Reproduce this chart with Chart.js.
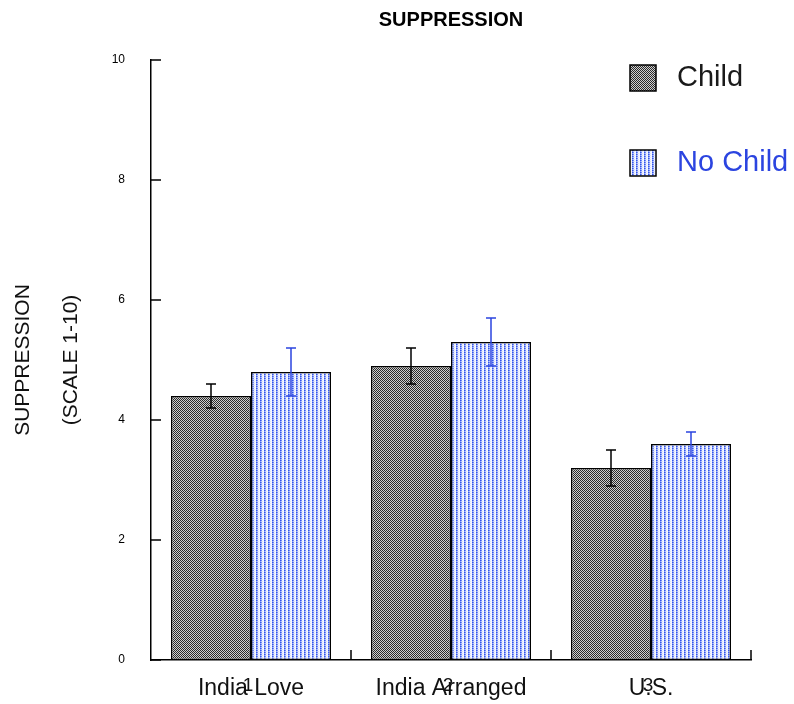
<!DOCTYPE html>
<html lang="en">
<head>
    <meta charset="UTF-8">
    <title>Suppression</title>
    <script src="https://cdn.jsdelivr.net/npm/chart.js"></script>
    <style>
        body {
            margin: 0;
            background: #fff;
        }
        #chart {
            display: block;
        }
    </style>
</head>
<body>
    <canvas id="chart" width="794" height="704"></canvas>

    <script>
        // data
        const groups = ['India Love', 'India Arranged', 'U.S.'];
        const groupNumbers = ['1', '2', '3'];
        const childMeans = [4.4, 4.9, 3.2];
        const childErrors = [0.2, 0.3, 0.3];
        const noChildMeans = [4.8, 5.3, 3.6];
        const noChildErrors = [0.4, 0.4, 0.2];
        const yTicks = [0, 2, 4, 6, 8, 10];

        const BLUE = '#2b44e0';
        const FONT = "'Liberation Sans', Arial, Helvetica, sans-serif";

        // fill patterns
        function makePattern(w, h, bg, dots) {
            const c = document.createElement('canvas');
            c.width = w;
            c.height = h;
            const g = c.getContext('2d');
            g.fillStyle = bg;
            g.fillRect(0, 0, w, h);
            dots.forEach(d => {
                g.fillStyle = d[2];
                g.fillRect(d[0], d[1], 1, 1);
            });
            return g.createPattern(c, 'repeat');
        }

        const ctx = document.getElementById('chart').getContext('2d');
        const childFill = makePattern(2, 2, '#cfcfcf', [[0, 0, '#2a2a2a'], [1, 1, '#2a2a2a']]);
        const noChildFill = makePattern(4, 4, '#f4f6fe', [
            [0, 0, '#3355ee'], [0, 1, '#8ea2f5'], [0, 2, '#3355ee'], [0, 3, '#8ea2f5'],
            [1, 0, '#7088f2'], [1, 1, '#c0cbfa'], [1, 2, '#7088f2'], [1, 3, '#c0cbfa'],
            [2, 1, '#dde3fc'], [2, 3, '#dde3fc']
        ]);

        // error bars, inward ticks, legend, group numbers
        const extras = {
            id: 'extras',
            afterDatasetsDraw(chart) {
                const g = chart.ctx;
                const y = chart.scales.y;
                const errs = [childErrors, noChildErrors];
                const cols = ['#000', BLUE];
                chart.data.datasets.forEach((ds, di) => {
                    const meta = chart.getDatasetMeta(di);
                    meta.data.forEach((bar, i) => {
                        const hi = y.getPixelForValue(ds.data[i] + errs[di][i]);
                        const lo = y.getPixelForValue(ds.data[i] - errs[di][i]);
                        g.save();
                        g.strokeStyle = cols[di];
                        g.lineWidth = 1.5;
                        g.beginPath();
                        g.moveTo(bar.x, hi);
                        g.lineTo(bar.x, lo);
                        g.moveTo(bar.x - 5, hi);
                        g.lineTo(bar.x + 5, hi);
                        g.moveTo(bar.x - 5, lo);
                        g.lineTo(bar.x + 5, lo);
                        g.stroke();
                        g.restore();
                    });
                });
            },
            afterDraw(chart) {
                const g = chart.ctx;
                const x = chart.scales.x;
                const y = chart.scales.y;
                const area = chart.chartArea;
                g.save();
                g.strokeStyle = '#000';
                g.lineWidth = 1.5;
                g.beginPath();
                yTicks.forEach(v => {
                    const py = y.getPixelForValue(v);
                    g.moveTo(area.left, py);
                    g.lineTo(area.left + 10, py);
                });
                for (let i = 1; i <= groups.length; i++) {
                    const px = x.getPixelForValue(i - 0.5);
                    g.moveTo(px, area.bottom);
                    g.lineTo(px, area.bottom - 10);
                }
                g.stroke();

                // stray group numbers under the labels
                g.fillStyle = '#111';
                g.font = '19px ' + FONT;
                g.textAlign = 'center';
                g.textBaseline = 'middle';
                groupNumbers.forEach((n, i) => {
                    g.fillText(n, x.getPixelForValue(i) - 3, 686);
                });

                // legend
                const items = [
                    { label: chart.data.datasets[0].label, fill: childFill, color: '#1a1a1a', top: 65 },
                    { label: chart.data.datasets[1].label, fill: noChildFill, color: BLUE, top: 150 }
                ];
                g.font = '29px ' + FONT;
                g.textAlign = 'left';
                items.forEach(it => {
                    g.fillStyle = it.fill;
                    g.fillRect(630, it.top, 26, 26);
                    g.strokeRect(630, it.top, 26, 26);
                    g.fillStyle = it.color;
                    g.fillText(it.label, 677, it.top + 13);
                });
                g.restore();
            }
        };

        new Chart(ctx, {
            type: 'bar',
            data: {
                labels: groups,
                datasets: [
                    {
                        label: 'Child',
                        data: childMeans,
                        backgroundColor: childFill,
                        borderColor: '#000',
                        borderWidth: 1.5,
                        borderSkipped: false
                    },
                    {
                        label: 'No Child',
                        data: noChildMeans,
                        backgroundColor: noChildFill,
                        borderColor: '#000',
                        borderWidth: 1.5,
                        borderSkipped: false
                    }
                ]
            },
            options: {
                responsive: false,
                animation: false,
                events: [],
                layout: {
                    padding: { left: 0, right: 43, top: 0, bottom: 0 }
                },
                datasets: {
                    bar: { categoryPercentage: 0.8, barPercentage: 1.0 }
                },
                plugins: {
                    legend: { display: false },
                    tooltip: { enabled: false },
                    title: {
                        display: true,
                        text: 'SUPPRESSION',
                        fullSize: false,
                        color: '#000',
                        font: { family: FONT, size: 20, weight: 'bold', lineHeight: 1.2 },
                        padding: { top: 8, bottom: 28 }
                    }
                },
                scales: {
                    x: {
                        grid: { display: false },
                        border: { color: '#000', width: 1.5 },
                        ticks: {
                            color: '#111',
                            padding: 7,
                            maxRotation: 0,
                            font: { family: FONT, size: 23 }
                        },
                        afterFit: s => { s.height = 44; }
                    },
                    y: {
                        min: 0,
                        max: 10,
                        grid: { display: false },
                        border: { color: '#000', width: 1.5 },
                        ticks: {
                            stepSize: 2,
                            color: '#000',
                            padding: 18,
                            font: { family: FONT, size: 12 }
                        },
                        title: {
                            display: true,
                            text: ['SUPPRESSION', '(SCALE 1-10)'],
                            color: '#111',
                            padding: { top: 0, bottom: 0 },
                            font: { family: FONT, size: 21, lineHeight: 2.25 }
                        },
                        afterFit: s => { s.width = 151; }
                    }
                }
            },
            plugins: [extras]
        });
    </script>
</body>
</html>
